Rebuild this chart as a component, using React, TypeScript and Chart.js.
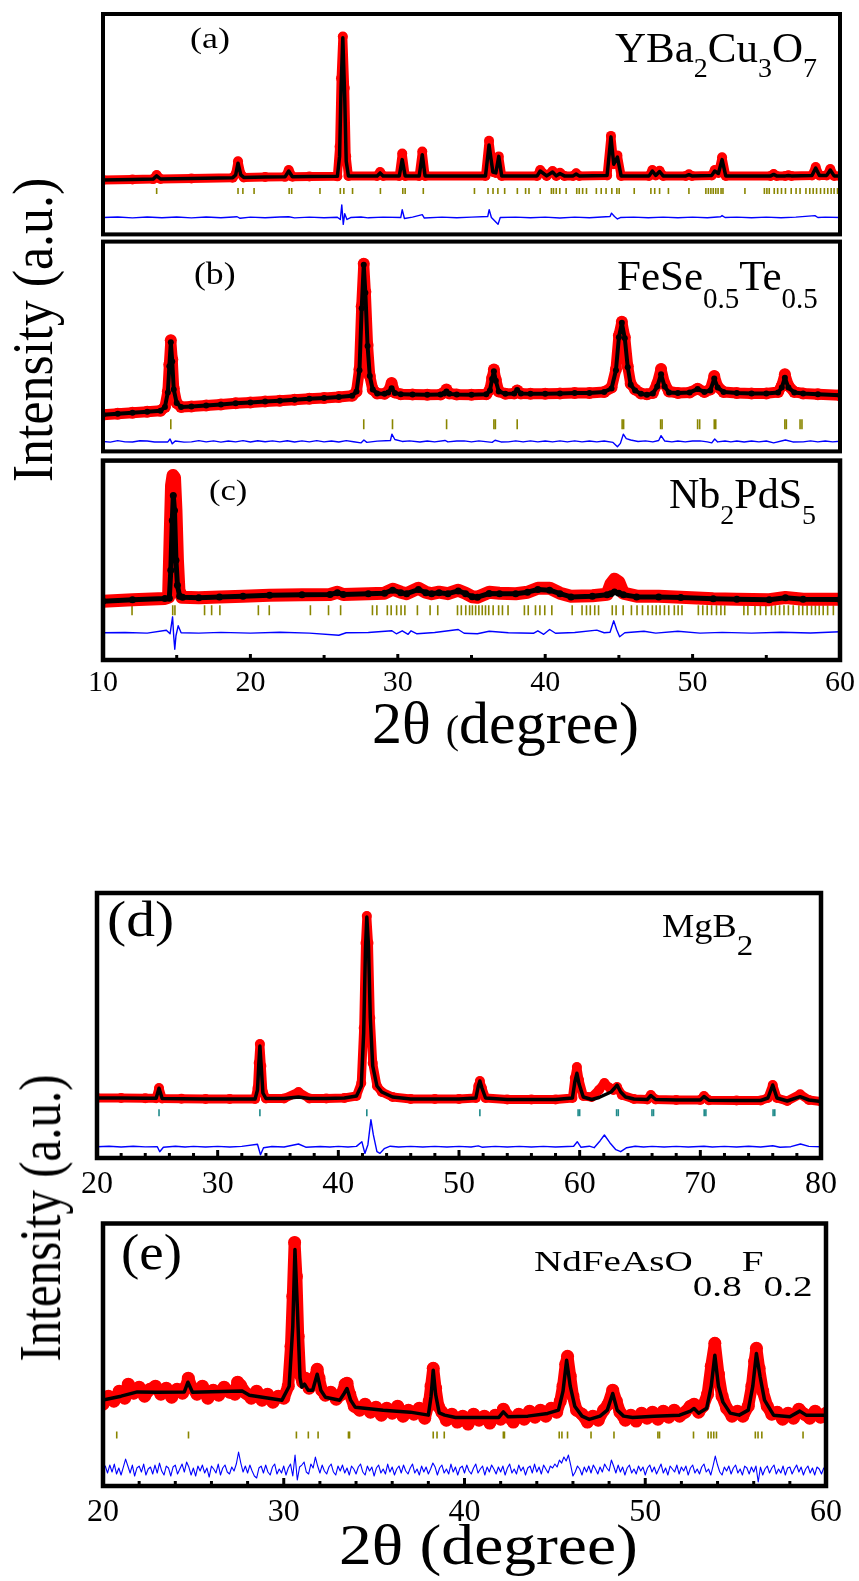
import React, { useEffect, useRef } from "react";
import { Chart, registerables } from "chart.js";

Chart.register(...registerables);
Chart.defaults.font.family = "'Liberation Serif', 'Times New Roman', serif";

type Pt = [number, number];

// ---------------- (a) YBa2Cu3O7 ----------------
const obsA: Pt[] = [[10,55.7],[12,56.3],[13.4,56.7],[13.64,61],[13.9,56.8],[16,57.4],[18.8,58.2],[19.0,62],[19.16,75],[19.35,62],[19.55,58.4],[21,58.8],[22.35,59],[22.6,66],[22.85,59.1],[24,59.3],[25.9,59.5],[26.05,90],[26.15,160],[26.27,203],[26.4,150],[26.5,80],[26.65,60],[28.6,60],[28.8,64],[29.0,60],[30.1,60],[30.3,83],[30.5,60],[31.45,60],[31.66,85],[31.85,60],[35.95,60],[36.19,96],[36.45,64],[36.65,63],[36.85,80],[37.05,60],[39.45,60],[39.66,66],[40.1,60],[40.5,65],[40.75,60],[41.0,63.3],[41.3,60],[41.9,60],[42.1,62.7],[42.3,60],[44.2,60.5],[44.46,101],[44.65,72],[44.9,81],[45.15,60],[47.05,60],[47.27,66],[47.5,60.5],[47.76,65.3],[48.0,60],[49.55,60],[49.75,61.7],[49.95,60],[51.3,60.5],[51.5,66],[51.75,63],[52.0,79],[52.25,60],[55.3,60],[55.5,62],[55.7,60],[56.3,60],[56.5,60.7],[56.7,60],[58.1,60.5],[58.35,69],[58.6,60.5],[59.1,60.5],[59.34,67],[59.6,60],[60,60]];
const calcA: Pt[] = [[10,55.7],[12,56.3],[13.4,56.7],[13.64,60],[13.9,56.8],[16,57.4],[18.8,58.2],[19.0,61],[19.16,73],[19.35,61],[19.55,58.4],[21,58.8],[22.35,59],[22.6,65],[22.85,59.1],[24,59.3],[25.9,59.5],[26.05,80],[26.15,150],[26.27,201.7],[26.4,140],[26.5,75],[26.65,60],[28.6,60],[28.8,63],[29.0,60],[30.1,60],[30.3,76.7],[30.5,60],[31.45,60],[31.66,81.7],[31.85,60],[35.95,60],[36.19,91.7],[36.45,64],[36.65,63],[36.85,80],[37.05,60],[39.45,60],[39.66,65],[40.1,60],[40.5,64],[40.75,60],[41.0,62.5],[41.3,60],[41.9,60],[42.1,62],[42.3,60],[44.2,60.5],[44.46,100],[44.65,72],[44.9,79.3],[45.15,60],[47.05,60],[47.27,65],[47.5,60.5],[47.76,64.5],[48.0,60],[49.55,60],[49.75,61.2],[49.95,60],[51.3,60.5],[51.5,65],[51.75,62.5],[52.0,76.7],[52.25,60],[55.3,60],[55.5,61.5],[55.7,60],[56.3,60],[56.5,60.5],[56.7,60],[58.1,60.5],[58.35,68],[58.6,60.5],[59.1,60.5],[59.34,66],[59.6,60],[60,60]];
const diffA: Pt[] = [[10,0],[11,0.6],[12,-0.4],[13,0.5],[14,-0.3],[15,0.5],[16,-0.4],[17,0.6],[18,-0.3],[19.1,0.8],[19.3,-0.8],[20,0.4],[21,-0.3],[22,0.5],[22.6,0.8],[23,-0.4],[24,0.4],[25,-0.3],[25.9,0.3],[26.1,-2],[26.2,13],[26.3,-7],[26.4,4],[26.55,-2],[26.8,0],[27.5,0.5],[28,-0.3],[29,0.4],[30.2,0],[30.3,8],[30.45,-1],[31,0.4],[31.66,3],[31.8,-0.5],[33,0.4],[34,-0.3],[35,0.4],[36.1,1],[36.2,8],[36.35,0],[36.8,-7],[36.95,0],[38,0.4],[39,-0.3],[40,0.4],[41,-0.5],[42,0.4],[43,-0.3],[44.4,1],[44.5,4.5],[44.7,1],[44.9,-1.5],[45.1,0],[46,0.4],[47,-0.3],[48,0.4],[49,-0.3],[50,0.4],[51,-0.3],[51.9,0.8],[52.0,2],[52.2,0],[53,0.4],[54,-0.3],[55,0.4],[56,-0.3],[57,0.4],[58.3,2],[58.5,0],[59,0.4],[60,0]];
const braggA: number[] = [13.64,19.16,19.49,20.25,22.63,22.8,24.72,26.1,26.34,26.93,28.82,30.34,30.5,31.73,35.2,36.12,36.46,36.79,37.25,38.11,38.67,38.9,39.66,40.42,40.56,40.75,40.99,41.42,42.14,42.31,42.54,42.8,43.47,43.8,44.13,44.52,44.86,45.02,46.04,47.17,47.43,47.76,48.36,49.75,50.9,51.07,51.24,51.4,51.57,51.73,51.93,52.06,53.55,54.87,55.04,55.2,55.54,55.77,56.03,56.3,56.69,57.02,57.29,57.69,57.95,58.18,58.41,58.68,58.94,59.17,59.4,59.6,59.83];

// ---------------- (b) FeSe0.5Te0.5 ----------------
const obsB: Pt[] = [[10,38],[11,39],[12,40],[13,41],[13.9,42],[14.2,46],[14.4,62],[14.5,90],[14.6,115],[14.7,95],[14.8,65],[15.0,50],[15.3,46],[16,46.5],[17,47.5],[18,48.6],[19,49.7],[20,50.6],[21,51.7],[22,52.5],[23,53.5],[24,54.5],[25,55.3],[26,56.2],[26.9,57.5],[27.2,62],[27.4,85],[27.55,150],[27.69,194],[27.8,165],[27.95,110],[28.1,78],[28.3,64],[28.6,60],[29.1,59.5],[29.35,62],[29.58,70.7],[29.8,61],[30.2,59],[31,58.8],[32,58.7],[32.9,58.8],[33.15,61],[33.3,64],[33.5,60],[34,58.8],[35,58.7],[36,59],[36.25,64],[36.4,76],[36.52,84.7],[36.65,74],[36.85,62],[37.3,59.5],[37.9,60],[38.1,63],[38.35,60],[39,59.5],[40,59.6],[41,60],[42,60.3],[43,60.5],[44,61.5],[44.5,66],[44.8,85],[45.0,120],[45.2,134],[45.4,118],[45.6,88],[45.8,70],[46.1,64],[46.5,60],[46.9,59],[47.3,60.5],[47.6,70],[47.86,85.3],[48.1,70],[48.4,62],[49,60.5],[49.8,61],[50.34,64.7],[50.8,61.5],[51.2,64],[51.47,78],[51.7,67],[52.1,61.5],[53,60.5],[54,60],[55,60],[55.8,61.5],[56.05,68],[56.26,79.7],[56.5,68],[56.9,61.5],[57.5,60],[58.5,59],[60,58]];
const calcB: Pt[] = [[10,38],[11,39],[12,40],[13,41],[13.9,42],[14.2,46],[14.4,61],[14.5,88],[14.6,113],[14.7,93],[14.8,64],[15.0,50],[15.3,46],[16,46.5],[17,47.5],[18,48.6],[19,49.7],[20,50.6],[21,51.7],[22,52.5],[23,53.5],[24,54.5],[25,55.3],[26,56.2],[26.9,57.5],[27.2,62],[27.4,84],[27.55,148],[27.69,193],[27.8,164],[27.95,109],[28.1,78],[28.3,64],[28.6,60],[29.1,59.5],[29.35,61],[29.58,65.3],[29.8,60.5],[30.2,59],[31,58.8],[32,58.7],[32.9,58.8],[33.15,60],[33.3,62],[33.5,59.5],[34,58.8],[35,58.7],[36,59],[36.25,63],[36.4,75],[36.52,83],[36.65,73],[36.85,62],[37.3,59.5],[37.9,60],[38.1,63.5],[38.35,60],[39,59.5],[40,59.6],[41,60],[42,60.3],[43,60.5],[44,61.5],[44.5,65],[44.8,84],[45.0,118],[45.2,133],[45.4,117],[45.6,87],[45.8,69],[46.1,63],[46.5,59.5],[46.9,58.5],[47.3,60],[47.6,67],[47.86,79.7],[48.1,67],[48.4,61],[49,60.5],[49.8,61],[50.34,64.5],[50.8,61.5],[51.2,63],[51.47,75.3],[51.7,66],[52.1,61.5],[53,60.5],[54,60],[55,60],[55.8,61],[56.05,66],[56.26,76.3],[56.5,66],[56.9,61],[57.5,60],[58.5,59],[60,58]];
const diffB: Pt[] = [[10,0],[10.5,-0.7],[11,0.8],[11.5,-0.4],[12,-0.6],[12.5,0.7],[13,0.5],[13.5,-0.6],[14.4,-0.5],[14.55,2.5],[14.7,-2.5],[14.9,0.5],[15.5,-0.7],[16,-0.5],[16.5,0.8],[17,-0.4],[17.5,0.6],[18,-0.7],[18.5,0.5],[19,-0.4],[19.5,0.8],[20,-0.6],[20.5,0.7],[21,-0.3],[21.5,0.6],[22,-0.5],[22.5,0.7],[23,-0.6],[23.5,0.6],[24,-0.4],[24.5,0.8],[25,-0.4],[25.5,0.5],[26,-0.6],[26.5,0.8],[27,-0.3],[27.5,-1.5],[27.7,1.5],[27.9,-1],[28.6,0.3],[29.5,1],[29.6,7.5],[29.8,2],[30.3,0],[30.8,0.6],[31.5,-0.6],[32,0.5],[32.5,-0.5],[33.2,1],[33.4,-0.5],[34,0.5],[34.5,0.6],[35,-0.5],[35.5,0.6],[36.4,-1],[36.6,1.2],[37,-0.5],[37.5,-0.4],[38,0.6],[38.5,-0.5],[39,0.6],[39.5,-0.4],[40,0.5],[40.5,-0.5],[41,0.6],[41.5,-0.5],[42,0.6],[42.5,-0.4],[43,0.5],[43.5,-0.4],[44,0.5],[44.6,-1],[44.9,-5.5],[45.1,-2],[45.3,7.5],[45.5,3],[45.8,1.5],[46.3,0],[46.8,0.6],[47.3,-0.5],[47.7,1],[47.86,6],[48.1,0.5],[48.6,-0.5],[49,0.5],[49.5,-0.5],[50,0.5],[50.5,0.6],[51,-0.4],[51.3,-1.5],[51.5,2.5],[51.7,-0.5],[52.2,0.5],[52.6,-0.5],[53,0.5],[53.5,-0.6],[54,0.5],[54.5,-0.4],[55,0.5],[55.5,-1.5],[56.3,1.5],[56.8,-0.5],[57.5,-0.4],[58,0.6],[58.5,-0.5],[59,0.5],[59.5,-0.4],[60,0.2]];
const braggB: number[] = [14.6,27.69,29.64,33.31,36.52,36.62,38.1,45.22,45.32,47.83,47.93,50.34,50.48,51.47,51.57,56.26,56.36,57.29,57.42];

// ---------------- (c) Nb2PdS5 ----------------
const obsC: Pt[] = [[10,59],[12,60.5],[14.2,61.7],[14.45,63],[14.55,120],[14.65,175],[14.75,185],[14.85,183],[14.95,150],[15.05,100],[15.15,70],[15.35,63],[16.5,62.5],[17.9,63.3],[19.5,64],[21.3,65],[23.5,65.5],[25.4,65.7],[25.9,68],[26.3,65.7],[28,66.5],[29.1,67],[29.65,71],[30.2,68],[30.6,66.5],[31.4,72],[31.9,68],[32.3,66.5],[32.8,68],[33.4,66.5],[34.1,70],[34.6,67],[35.05,63.5],[35.4,63],[36.2,68],[36.9,67],[38,66.5],[38.8,68],[39.5,72],[40.3,72],[41.0,67],[41.75,64],[43.2,64.5],[44.2,66],[44.45,76],[44.7,81],[45.0,78],[45.3,67],[46.2,64],[47.7,64],[49.2,63],[51.4,61.5],[53,61],[55.2,60.5],[56.3,62.7],[57.5,61],[60,61]];
const calcC: Pt[] = [[10,59],[12,60.5],[14.2,61.7],[14.5,62],[14.6,90],[14.7,140],[14.77,165],[14.85,150],[14.95,100],[15.05,75],[15.2,64],[15.4,63],[16.5,62.5],[17.9,63.3],[19.5,64],[21.3,65],[23.5,65.5],[25.4,65.7],[25.9,67.5],[26.3,65.7],[28,66.5],[29.1,67],[29.65,70],[30.2,67.5],[30.6,66.5],[31.4,70.7],[31.9,67.5],[32.3,66.5],[32.8,67.5],[33.4,66.5],[34.1,69.3],[34.6,66.5],[35.05,63.5],[35.4,63],[36.2,66.7],[36.9,66.5],[38,66.5],[38.8,68],[39.5,70.7],[40.3,70],[41.0,66.5],[41.75,63.3],[43.2,64],[44.2,65.5],[44.45,66.5],[44.7,68.3],[45.0,67],[45.3,65.5],[46.2,63.3],[47.7,63.3],[49.2,62.7],[51.4,61.5],[53,61],[55.2,60.5],[56.3,62.5],[57.5,61],[60,60.7]];
const diffC: Pt[] = [[10,0],[11.5,0.3],[13,-0.3],[14.3,2.5],[14.55,-1],[14.72,16],[14.8,-4],[14.87,-16.5],[14.95,-3],[15.1,7],[15.3,0],[16.5,-0.3],[18,0.4],[20,-0.3],[22,0.5],[24,-0.3],[26,-2.5],[26.5,0],[28,0.3],[29.6,2],[29.9,-1],[30.3,2],[30.7,-1.5],[30.9,2],[31.3,-1],[32.5,0.3],[34.1,3.3],[34.5,-0.5],[35.4,-1],[36.2,1.5],[37.5,0],[39.2,-0.5],[39.5,2],[39.9,-1.5],[40.3,3.3],[40.7,-0.5],[42,0.3],[43.5,2.7],[44,0],[44.4,0.5],[44.65,12],[44.85,3],[45.05,-4],[45.4,0],[46.7,1.5],[47.5,-0.3],[49,1.5],[50.5,-0.3],[52,0.4],[54,-0.3],[56,0.5],[58,-0.2],[60,1]];
const braggC: number[] = [11.97,14.73,14.88,16.89,17.37,17.93,20.54,21.28,24.07,25.3,26.12,28.28,28.58,29.29,29.55,29.92,30.22,30.48,31.33,32.19,32.71,34.05,34.31,34.61,34.87,35.06,35.28,35.5,35.73,35.95,36.17,36.47,36.84,37.1,37.48,38.59,38.85,39.34,39.64,39.97,40.45,41.83,42.5,42.8,43.06,43.36,43.62,44.55,44.81,45.29,45.85,46.23,46.6,46.97,47.27,47.53,47.79,48.09,48.38,48.76,49.02,49.28,50.39,50.69,50.99,51.29,51.62,51.92,52.18,53.48,53.75,54.23,54.6,54.97,55.35,55.61,55.9,56.2,56.5,56.83,57.21,57.47,57.77,58.07,58.33,58.59,58.86,59.16,59.55];

// ---------------- (d) MgB2 ----------------
const obsD: Pt[] = [[20,60],[22,60],[24,59.7],[24.9,59.7],[25.14,70],[25.4,59.5],[27,59.3],[29,59],[31,59],[33.1,59],[33.3,70],[33.4,95],[33.5,114],[33.62,92],[33.75,66],[34,59.5],[35.5,59.5],[36.7,66],[37.6,59.5],[39,59.5],[40.5,60],[41.5,62],[41.9,75],[42.1,130],[42.25,215],[42.36,242],[42.5,215],[42.65,140],[42.85,95],[43.2,72],[43.6,66],[44.5,61],[46,59],[48,59],[50,59],[51.4,60],[51.6,72],[51.73,77],[51.9,70],[52.2,60],[54,58.5],[56,58.5],[58,58.5],[59.4,60],[59.6,80],[59.77,91],[59.95,78],[60.3,62],[61,61],[61.6,68],[62.05,75],[62.5,70],[62.8,68],[63.1,71],[63.5,63],[64.5,59],[65.6,58.5],[65.9,63],[66.3,58.5],[68,58],[70,58],[70.3,62],[70.7,57.8],[73,57.5],[75,57.5],[75.6,60],[76.0,73],[76.35,60],[77.2,57],[78.27,63.7],[79,58],[80,56.5]];
const calcD: Pt[] = [[20,60],[22,60],[24,59.7],[24.9,59.7],[25.14,69.7],[25.4,59.5],[27,59.3],[29,59],[31,59],[33.1,59],[33.3,68],[33.4,92],[33.5,112],[33.62,90],[33.75,65],[34,59.5],[35.5,59.5],[36.7,61],[37.6,59.5],[39,59.5],[40.5,60],[41.5,62],[41.9,72],[42.1,125],[42.25,210],[42.36,241],[42.5,212],[42.65,140],[42.85,92],[43.2,72],[43.6,66],[44.5,61],[46,59],[48,59],[50,59],[51.4,60],[51.6,72],[51.73,77],[51.9,70],[52.2,60],[54,58.5],[56,58.5],[58,58.5],[59.4,60],[59.6,76],[59.77,84.7],[59.95,74],[60.3,61],[61,58.5],[61.6,60.5],[62.05,63],[62.6,66],[62.9,70],[63.1,73],[63.4,66],[63.8,61],[64.5,59],[65.6,58.5],[65.9,62.5],[66.3,58.5],[68,58],[70,58],[70.3,61.5],[70.7,57.8],[73,57.5],[75,57.5],[75.6,60],[76.0,73],[76.35,60],[77.2,57],[78.27,61.3],[79,58],[80,56.5]];
const diffD: Pt[] = [[20,0],[21,0.4],[22,-0.3],[23,0.4],[24,-0.2],[25.0,0],[25.2,-5],[25.5,-0.5],[26.5,0.5],[27.3,-0.3],[28,0.3],[29,-0.3],[30,0.3],[31,-0.3],[32,0.3],[33.3,2.5],[33.55,-8],[33.8,-1],[34.5,0.2],[35.5,-0.3],[36.7,2.7],[37.3,-0.5],[38.5,0.2],[39.3,-0.3],[40,0.3],[40.8,-0.3],[41.5,0.3],[41.95,5],[42.2,-6.7],[42.45,2],[42.7,27],[42.9,12],[43.2,-5],[43.45,-6.7],[43.8,-2],[44.3,0.5],[45,-0.3],[46,0.3],[47,-0.3],[48,0.3],[49,-0.3],[50,0.3],[51,-0.3],[51.6,0.8],[51.9,-0.5],[53,0.3],[54,-0.3],[55,0.3],[56,-0.3],[57,0.3],[58,-0.3],[59.5,0.5],[59.8,5],[60.1,-0.5],[60.8,0.5],[61.2,-1],[61.7,6],[62.05,11.7],[62.5,4],[63.0,-3],[63.4,-5],[63.9,-1],[64.6,0.4],[65.3,-0.3],[66,0.3],[67,-0.3],[68,0.3],[69,-0.3],[70.3,0.5],[71,-0.3],[72,0.3],[73,-0.3],[74,0.5],[75,-0.3],[76,1],[76.6,-0.5],[77.5,0],[78.3,2.7],[79,0.3],[80,0]];
const braggD: number[] = [25.14,33.5,42.36,51.73,59.87,60.0,63.06,63.2,65.99,66.12,70.32,70.46,76.03,76.17];

// ---------------- (e) NdFeAsO0.8F0.2 ----------------
const obsE: Pt[] = [[20.0,82],[20.3,90],[20.6,85],[20.9,95],[21.2,88],[21.4,102],[21.7,93],[22.0,99],[22.3,90],[22.6,97],[22.9,100],[23.2,92],[23.5,98],[23.8,89],[24.1,97],[24.4,93],[24.6,100],[24.72,108],[24.9,99],[25.2,92],[25.5,100],[25.8,88],[26.1,96],[26.4,91],[26.7,99],[27.0,94],[27.3,92],[27.45,104],[27.6,101],[27.9,93],[28.2,88],[28.5,95],[28.8,86],[29.1,92],[29.4,84],[29.7,90],[30.0,88],[30.25,100],[30.4,140],[30.5,190],[30.6,244],[30.7,210],[30.8,150],[30.9,112],[31.05,104],[31.2,108],[31.4,98],[31.6,104],[31.75,110],[31.85,117],[31.95,108],[32.1,96],[32.3,91],[32.6,94],[32.9,87],[33.2,92],[33.4,102],[33.5,103],[33.65,92],[33.9,80],[34.2,76],[34.5,82],[34.8,74],[35.1,79],[35.4,71],[35.7,78],[36.0,73],[36.3,80],[36.6,70],[36.9,76],[37.2,72],[37.5,78],[37.8,68],[38.05,85],[38.15,100],[38.27,118],[38.4,98],[38.55,80],[38.75,74],[39.0,66],[39.3,72],[39.6,64],[39.9,70],[40.2,62],[40.5,72],[40.8,66],[41.1,70],[41.4,63],[41.7,71],[42.0,67],[42.15,77],[42.4,70],[42.7,64],[43.0,72],[43.3,67],[43.6,75],[43.9,69],[44.2,76],[44.5,70],[44.8,78],[45.1,74],[45.3,85],[45.45,100],[45.6,122],[45.7,130],[45.85,110],[46.0,90],[46.2,76],[46.5,72],[46.8,64],[47.1,70],[47.4,66],[47.7,76],[47.95,82],[48.2,96],[48.4,85],[48.6,74],[48.9,66],[49.2,71],[49.5,65],[49.8,73],[50.1,68],[50.4,74],[50.7,67],[51.0,75],[51.3,69],[51.6,76],[51.9,70],[52.2,74],[52.5,80],[52.7,82],[52.95,74],[53.2,80],[53.45,92],[53.65,120],[53.85,143],[54.05,112],[54.25,90],[54.5,78],[54.8,70],[55.1,75],[55.4,70],[55.7,80],[55.9,100],[56.05,125],[56.15,138],[56.3,118],[56.5,95],[56.75,80],[57.0,72],[57.3,74],[57.6,67],[57.9,73],[58.2,68],[58.5,77],[58.8,72],[59.1,68],[59.4,75],[59.7,69],[60.0,73]];
const calcE: Pt[] = [[20,86],[21,90],[21.9,94.3],[23,94],[24.5,94.3],[24.7,104],[24.95,94],[26,94.5],[27.7,95.3],[28.1,91],[29,88.5],[29.9,86],[30.3,100],[30.5,160],[30.62,237],[30.75,180],[30.9,108],[31.0,99],[31.15,102],[31.35,96],[31.6,96],[31.85,112],[32.05,96],[32.3,89],[33.1,86],[33.35,93],[33.5,97.7],[33.7,86],[33.95,79],[35.5,76],[37,74],[38.0,71],[38.15,90],[38.27,116],[38.4,92],[38.6,73.3],[38.9,71],[39.5,68.7],[41,68.7],[41.9,68.7],[42.15,74.3],[42.4,69.5],[43.5,70],[44.6,72.7],[45.2,76],[45.45,95],[45.65,126],[45.85,100],[46.1,80],[46.5,70],[46.9,66.7],[47.5,70],[47.9,76],[48.2,92.7],[48.45,76],[48.8,70],[49.3,68.7],[50.5,70],[51.9,71],[52.5,75],[52.7,77.7],[52.95,73],[53.4,78],[53.65,100],[53.85,131],[54.05,100],[54.3,84],[54.7,73],[55.2,71],[55.7,76],[55.95,100],[56.15,132.7],[56.35,110],[56.6,86],[57.1,71],[58.0,69.3],[58.55,75],[58.9,71],[60,71]];
// (e) difference curve: scan from 20° in 0.125° steps (eight readings per degree)
const diffEStart = 20;
const diffEStep = 0.125;
const diffEValues: number[] = [
  0,4,-3,5,-2,6,-4,2,
  -5,3,11,4,-3,5,-6,2,
  4,-2,6,-5,1,3,-4,5,
  -3,7,-1,-5,4,2,-6,3,
  5,-4,1,6,-2,8,3,-5,
  2,-6,4,-1,5,-3,2,-7,
  4,1,-3,6,-5,2,5,-2,
  -4,3,-1,6,18,7,-2,4,
  -3,5,-1,-6,-8,2,4,-3,
  5,-2,-5,3,6,-4,1,-3,
  4,-5,2,6,-6,15,-10,3,
  5,8,-2,-4,6,2,13,4,
  -3,5,-1,-4,3,6,-2,-5,
  4,-1,5,-3,2,-5,4,1,
  -4,3,6,-2,-5,4,-1,3,
  -6,2,5,-3,1,-4,6,-2,
  3,-5,1,4,-3,5,-1,-4,
  2,6,-3,1,-5,4,-2,3,
  -4,1,7,3,-5,2,5,-3,
  1,-4,6,-2,3,-5,2,4,
  -3,5,-1,-4,2,6,-3,1,
  4,-5,3,-2,5,1,-4,3,
  -2,4,-5,2,6,-3,1,-4,
  5,-1,3,-5,2,4,-3,6,
  -2,3,-4,5,1,-3,4,2,
  6,3,10,7,13,9,15,5,
  -6,-2,4,1,-5,3,-2,4,
  -3,5,1,-4,3,-2,6,2,
  -1,10,4,-3,5,-2,3,-5,
  2,5,-3,1,-4,4,-1,3,
  -5,2,5,-2,3,-4,1,6,
  -3,2,-5,4,1,-2,5,-4,
  3,-1,4,-5,2,5,-3,1,
  -4,3,6,-2,1,-5,4,14,
  5,-2,-5,3,-1,4,-4,2,
  5,-3,1,-5,4,2,-4,3,
  -2,4,-12,3,-5,1,4,-3,
  2,5,-4,1,-3,4,-5,2,
  3,-4,1,5,-2,3,-5,1,
  4,-3,2,-5,3,1,-4,2,
  0,
];
const diffE: Pt[] = diffEValues.map((v, i) => [diffEStart + i * diffEStep, v]);
const braggE: number[] = [20.76,24.73,30.7,31.36,31.9,33.58,33.64,38.27,38.48,38.88,42.15,42.21,45.24,45.39,45.7,47.0,48.27,50.7,50.79,52.67,53.48,53.64,53.79,53.94,56.09,56.24,56.45,58.73];

// ---------------- layout / style configs ----------------
const PL = 30, PR = 22, PT = 6;
const SERIF = "'Liberation Serif', 'Times New Roman', serif";

interface PanelCfg {
  left: number; top: number; width: number; height: number;
  xMin: number; xMax: number; xStep: number; labels: boolean;
  fontSize: number; labelPad: number; axisH: number;
  obs: Pt[]; calc: Pt[]; diff: Pt[]; bragg: number[];
  diffBase: number; braggY: number; braggHalf: number; braggColor: string;
  obsWidth: number; obsRadius: number; obsStyle: string;
  calcWidth: number; calcRadius: number; diffWidth: number;
  majorLen: number; minorLen: number; frameW: number;
}

const panels: PanelCfg[] = [
  { left: 103, top: 14, width: 737, height: 226, xMin: 10, xMax: 60, xStep: 5, labels: false, fontSize: 30, labelPad: 5, axisH: 0,
    obs: obsA, calc: calcA, diff: diffA, bragg: braggA, diffBase: 17.3, braggY: 44.5, braggHalf: 3, braggColor: "#8a8600",
    obsWidth: 9, obsRadius: 5, obsStyle: "circle", calcWidth: 3.5, calcRadius: 0, diffWidth: 1.4, majorLen: 0, minorLen: 0, frameW: 4 },
  { left: 103, top: 241, width: 737, height: 217, xMin: 10, xMax: 60, xStep: 5, labels: false, fontSize: 30, labelPad: 5, axisH: 0,
    obs: obsB, calc: calcB, diff: diffB, bragg: braggB, diffBase: 10.3, braggY: 28, braggHalf: 5, braggColor: "#8a8600",
    obsWidth: 11, obsRadius: 6, obsStyle: "circle", calcWidth: 4, calcRadius: 3, diffWidth: 1.4, majorLen: 0, minorLen: 0, frameW: 4 },
  { left: 103, top: 460, width: 737, height: 200, xMin: 10, xMax: 60, xStep: 5, labels: true, fontSize: 30, labelPad: 5, axisH: 44,
    obs: obsC, calc: calcC, diff: diffC, bragg: braggC, diffBase: 27.3, braggY: 50, braggHalf: 5, braggColor: "#8a8600",
    obsWidth: 13, obsRadius: 6, obsStyle: "rect", calcWidth: 5, calcRadius: 3.5, diffWidth: 1.4, majorLen: 6, minorLen: 5, frameW: 4.5 },
  { left: 97, top: 893, width: 725, height: 265, xMin: 20, xMax: 80, xStep: 2, labels: true, fontSize: 32, labelPad: 7, axisH: 46,
    obs: obsD, calc: calcD, diff: diffD, bragg: braggD, diffBase: 11.3, braggY: 45.3, braggHalf: 3.5, braggColor: "#1f8a8a",
    obsWidth: 9, obsRadius: 5, obsStyle: "circle", calcWidth: 3.5, calcRadius: 0, diffWidth: 1.4, majorLen: 8, minorLen: 5, frameW: 4.5 },
  { left: 103, top: 1223, width: 724, height: 263, xMin: 20, xMax: 60, xStep: 2, labels: true, fontSize: 32, labelPad: 7, axisH: 46,
    obs: obsE, calc: calcE, diff: diffE, bragg: braggE, diffBase: 16, braggY: 51, braggHalf: 3.5, braggColor: "#8a8600",
    obsWidth: 12, obsRadius: 6.5, obsStyle: "circle", calcWidth: 3.5, calcRadius: 0, diffWidth: 1.1, majorLen: 8, minorLen: 5, frameW: 4.5 },
];

function Panel({ cfg }: { cfg: PanelCfg }) {
  const ref = useRef<HTMLCanvasElement>(null);
  useEffect(() => {
    if (!ref.current) return;
    const framePlugin = {
      id: "frameTicks",
      afterDraw(chart: any) {
        const { ctx, chartArea: a } = chart;
        ctx.save();
        ctx.strokeStyle = "#000";
        if (cfg.labels) {
          const xs = chart.scales.x;
          ctx.lineWidth = 3;
          xs.ticks.forEach((t: any) => {
            const px = xs.getPixelForValue(t.value);
            const len = Math.abs(t.value % 10) < 1e-6 ? cfg.majorLen : cfg.minorLen;
            ctx.beginPath();
            ctx.moveTo(px, a.bottom);
            ctx.lineTo(px, a.bottom - len);
            ctx.stroke();
          });
        }
        ctx.lineWidth = cfg.frameW;
        ctx.strokeRect(a.left, a.top, a.right - a.left, a.bottom - a.top);
        ctx.restore();
      },
    };
    const chart = new Chart(ref.current, {
      type: "line",
      data: {
        datasets: [
          {
            label: "calc",
            data: cfg.calc.map(([x, y]) => ({ x, y })),
            borderColor: "#000",
            backgroundColor: "#000",
            borderWidth: cfg.calcWidth,
            borderJoinStyle: "round",
            borderCapStyle: "round",
            pointRadius: cfg.calcRadius,
            pointBackgroundColor: "#000",
            pointBorderWidth: 0,
            tension: 0,
            order: 1,
          },
          {
            label: "obs",
            data: cfg.obs.map(([x, y]) => ({ x, y })),
            borderColor: "#ff0000",
            backgroundColor: "#ff0000",
            borderWidth: cfg.obsWidth,
            borderJoinStyle: "round",
            borderCapStyle: "round",
            pointRadius: cfg.obsRadius,
            pointStyle: cfg.obsStyle,
            pointBackgroundColor: "#ff0000",
            pointBorderWidth: 0,
            tension: 0,
            order: 2,
          },
          {
            label: "bragg",
            data: cfg.bragg.map((x) => ({ x, y: cfg.braggY })),
            showLine: false,
            pointStyle: "line",
            pointRotation: 90,
            pointRadius: cfg.braggHalf,
            pointBorderColor: cfg.braggColor,
            pointBackgroundColor: cfg.braggColor,
            pointBorderWidth: 1.6,
            order: 3,
          },
          {
            label: "diff",
            data: cfg.diff.map(([x, d]) => ({ x, y: cfg.diffBase + d })),
            borderColor: "#0000ff",
            borderWidth: cfg.diffWidth,
            borderJoinStyle: "round",
            pointRadius: 0,
            tension: 0,
            order: 4,
          },
        ] as any,
      },
      options: {
        animation: false,
        responsive: false,
        devicePixelRatio: 1,
        events: [],
        layout: { padding: { left: PL, right: PR, top: PT, bottom: 0 } },
        plugins: { legend: { display: false }, tooltip: { enabled: false } },
        scales: {
          x: {
            type: "linear",
            min: cfg.xMin,
            max: cfg.xMax,
            display: cfg.labels,
            grid: { display: false, drawTicks: false },
            border: { display: false },
            ticks: {
              stepSize: cfg.xStep,
              autoSkip: false,
              maxRotation: 0,
              minRotation: 0,
              padding: cfg.labelPad,
              color: "#000",
              font: { family: SERIF, size: cfg.fontSize },
              callback: (v: any) => (Math.abs(Number(v) % 10) < 1e-6 ? String(v) : ""),
            },
            afterFit: (s: any) => {
              s.height = cfg.axisH;
            },
          },
          y: { type: "linear", min: 0, max: cfg.height, display: false },
        },
      } as any,
      plugins: [framePlugin],
    });
    return () => chart.destroy();
  }, [cfg]);
  const W = cfg.width + PL + PR;
  const H = cfg.height + PT + (cfg.labels ? cfg.axisH : 0);
  return (
    <canvas
      ref={ref}
      width={W}
      height={H}
      style={{ position: "absolute", left: cfg.left - PL, top: cfg.top - PT, width: W, height: H }}
    />
  );
}

const txt = (s: React.CSSProperties): React.CSSProperties => ({
  position: "absolute",
  fontFamily: SERIF,
  lineHeight: 1,
  whiteSpace: "nowrap",
  color: "#000",
  ...s,
});

const sub = (fs: number, dy: number): React.CSSProperties => ({ fontSize: fs, position: "relative", top: dy });

export default function App() {
  return (
    <div style={{ position: "absolute", left: 0, top: 0, width: 859, height: 1581, background: "#fff", overflow: "hidden" }}>
      {panels.map((p, i) => (
        <Panel key={i} cfg={p} />
      ))}

      {/* panel labels */}
      <div style={txt({ left: 190, top: 23, fontSize: 30, transform: "scaleX(1.2)", transformOrigin: "left top" })}>(a)</div>
      <div style={txt({ left: 615, top: 26, fontSize: 43 })}>
        YBa<span style={sub(28, 15)}>2</span>Cu<span style={sub(28, 15)}>3</span>O<span style={sub(28, 15)}>7</span>
      </div>

      <div style={txt({ left: 194, top: 258, fontSize: 31, transform: "scaleX(1.15)", transformOrigin: "left top" })}>(b)</div>
      <div style={txt({ left: 617, top: 254, fontSize: 43 })}>
        FeSe<span style={sub(29, 18)}>0.5</span>Te<span style={sub(29, 18)}>0.5</span>
      </div>

      <div style={txt({ left: 209, top: 476, fontSize: 29, transform: "scaleX(1.19)", transformOrigin: "left top" })}>(c)</div>
      <div style={txt({ left: 669, top: 473, fontSize: 42 })}>
        Nb<span style={sub(28, 16)}>2</span>PdS<span style={sub(28, 16)}>5</span>
      </div>

      <div style={txt({ left: 107, top: 894, fontSize: 50, transform: "scaleX(1.15)", transformOrigin: "left top" })}>(d)</div>
      <div style={txt({ left: 662, top: 910, fontSize: 33, transform: "scaleX(1.1)", transformOrigin: "left top" })}>
        MgB<span style={sub(30, 18)}>2</span>
      </div>

      <div style={txt({ left: 121, top: 1227, fontSize: 50, transform: "scaleX(1.1)", transformOrigin: "left top" })}>(e)</div>
      <div style={txt({ left: 534, top: 1247, fontSize: 29, transform: "scaleX(1.35)", transformOrigin: "left top" })}>
        NdFeAsO<span style={sub(29, 25)}>0.8</span>F<span style={sub(29, 25)}>0.2</span>
      </div>

      {/* axis titles */}
      <div style={txt({ left: 372, top: 693, fontSize: 60 })}>
        2θ <span style={{ fontSize: 40 }}>(</span>degree)
      </div>
      <div style={txt({ left: 339, top: 1516, fontSize: 58, transform: "scaleX(1.13)", transformOrigin: "left top" })}>
        2θ (degree)
      </div>
      <div style={txt({ left: 34, top: 330, fontSize: 52, transform: "translate(-50%,-50%) rotate(-90deg) scaleY(1.08)" })}>
        Intensity (a.u.)
      </div>
      <div style={txt({ left: 40, top: 1218, fontSize: 49, transform: "translate(-50%,-50%) rotate(-90deg) scaleY(1.2)" })}>
        Intensity (a.u.)
      </div>
    </div>
  );
}
